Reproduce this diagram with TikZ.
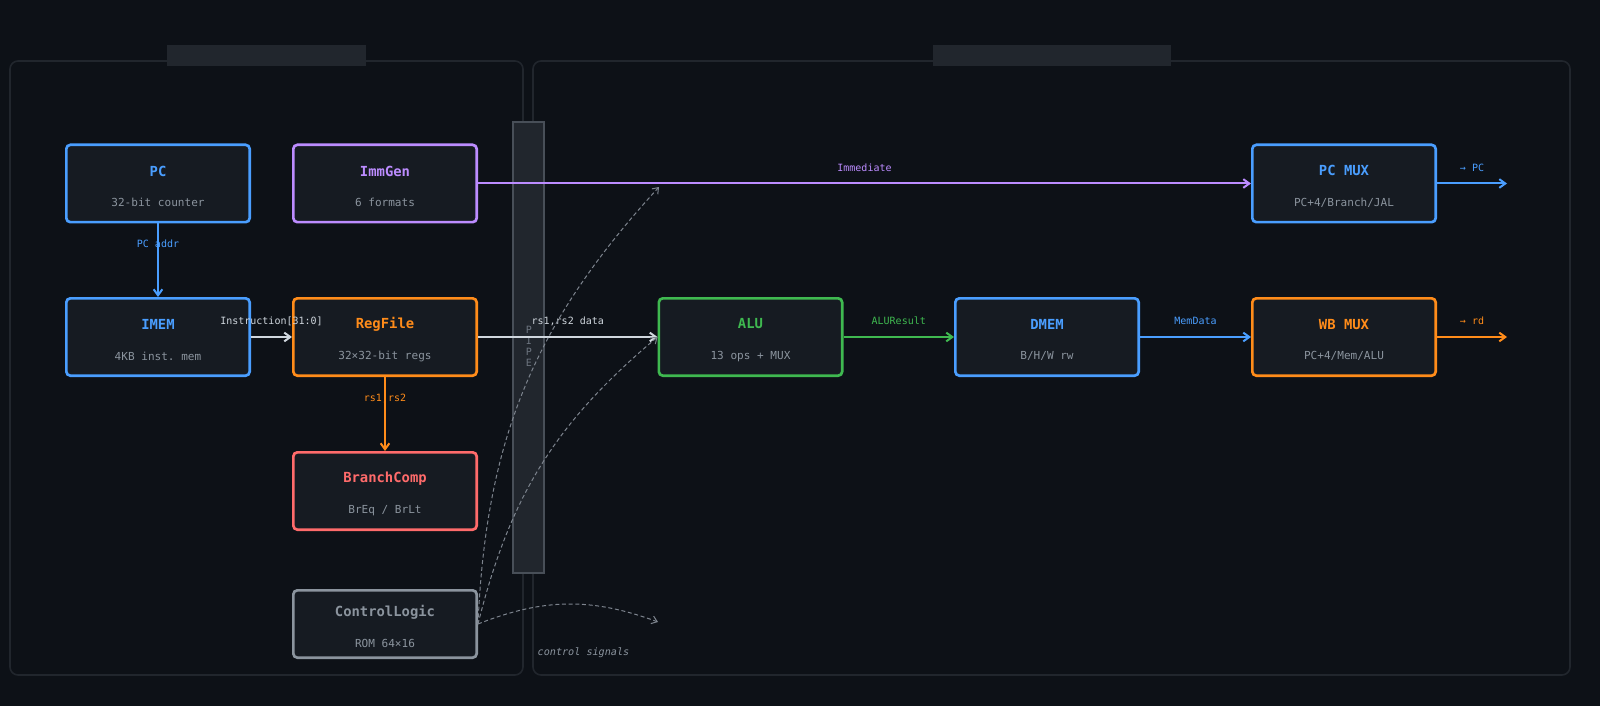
\documentclass[tikz,border=0pt]{standalone}
\usepackage{fontspec}
\setmonofont{DejaVu Sans Mono}
\usepackage{xcolor}
\usetikzlibrary{arrows.meta, calc}

\definecolor{bgdark}{HTML}{0D1117}
\definecolor{panelline}{HTML}{21262D}
\definecolor{boxbg}{HTML}{161B22}
\definecolor{pipefill}{HTML}{21262D}
\definecolor{pipeline}{HTML}{484F58}
\definecolor{cblue}{HTML}{4A9EFF}
\definecolor{cpurple}{HTML}{BC8CFF}
\definecolor{corange}{HTML}{FF8C1A}
\definecolor{cgreen}{HTML}{3FB950}
\definecolor{cred}{HTML}{FF6B6B}
\definecolor{cgray}{HTML}{8B949E}
\definecolor{clight}{HTML}{D0D7DE}
\definecolor{cdim}{HTML}{6E7681}

\newcommand{\unittitle}{\fontsize{10.4pt}{12pt}\selectfont\bfseries\rule{0pt}{12pt}}
\newcommand{\unitsub}{\fontsize{8.3pt}{10pt}\selectfont\color{cgray}}

\begin{document}
\begin{tikzpicture}[
  x=0.75pt, y=-0.75pt,
  unit/.style={draw=#1, text=#1, fill=boxbg, line width=2pt, rounded corners=3pt, minimum width=137.5pt, minimum height=58pt, align=center, font=\ttfamily, inner sep=0pt},
  wire/.style={-{Straight Barb[length=4.5pt, width=6.5pt]}, line width=1.5pt, draw=#1},
  wlbl/.style={font=\ttfamily\fontsize{7.5pt}{9pt}\selectfont, text=#1, midway, yshift=12pt},
  ctl/.style={-{Straight Barb[length=4pt, width=6pt]}, line width=0.75pt, draw=cdim!90!white, dash pattern=on 3pt off 2pt},
  panel/.style={draw=panelline, fill=bgdark, line width=1.2pt, rounded corners=6pt},
]
\fill[bgdark] (0,0) rectangle (1600,706);

% Stage panels
\draw[panel] (10,61) rectangle (523,675);
\draw[panel] (533,61) rectangle (1570,675);
\fill[panelline] (167,45) rectangle (366,66);
\fill[panelline] (933,45) rectangle (1171,66);

% Pipeline register
\draw[fill=pipefill, draw=pipeline, line width=1.2pt] (513,122) rectangle (544,573);
\node[font=\ttfamily\fontsize{7.5pt}{8.25pt}\selectfont, text=cdim, align=center] (pipelbl) at (529,346.5) {P\\I\\P\\E};

% Fetch / decode
\node[unit=cblue] (pc) at (158,183.5) {{\unittitle PC}\\[11pt]{\unitsub 32-bit counter}};
\node[unit=cpurple] (immgen) at (385,183.5) {{\unittitle ImmGen}\\[11pt]{\unitsub 6 formats}};
\node[unit=cblue] (imem) at (158,337) {{\unittitle IMEM}\\[11pt]{\unitsub 4KB inst. mem}};
\node[unit=corange] (regfile) at (385,337) {{\unittitle RegFile}\\[11pt]{\unitsub 32×32-bit regs}};
\node[unit=cred] (branch) at (385,491) {{\unittitle BranchComp}\\[11pt]{\unitsub BrEq / BrLt}};
\node[unit=cgray, minimum height=50.5pt] (ctrl) at (385,624) {{\unittitle ControlLogic}\\[11pt]{\unitsub ROM 64×16}};

% Execute / memory / writeback
\node[unit=cgreen] (alu) at (750.5,337) {{\unittitle ALU}\\[11pt]{\unitsub 13 ops + MUX}};
\node[unit=cblue] (dmem) at (1047,337) {{\unittitle DMEM}\\[11pt]{\unitsub B/H/W rw}};
\node[unit=cblue] (pcmux) at (1344,183.5) {{\unittitle PC MUX}\\[11pt]{\unitsub PC+4/Branch/JAL}};
\node[unit=corange] (wbmux) at (1344,337) {{\unittitle WB MUX}\\[11pt]{\unitsub PC+4/Mem/ALU}};

\coordinate (pcout) at (1507,183.5);
\coordinate (rdout) at (1507,337);
\coordinate (sigtop) at (659,187);
\coordinate (sigout) at (658,622);

% Datapath
\draw[wire=cblue] (pc.south) -- (imem.north) node[wlbl=cblue] {PC addr};
\draw[wire=clight] (imem.east) -- (regfile.west) node[wlbl=clight] {Instruction[31:0]};
\draw[wire=cpurple] (immgen.east) -- (pcmux.west) node[wlbl=cpurple] {Immediate};
\draw[wire=clight] (regfile.east) -- (alu.west) node[wlbl=clight] {rs1,rs2 data};
\draw[wire=corange] (regfile.south) -- (branch.north) node[wlbl=corange] {rs1,rs2};
\draw[wire=cgreen] (alu.east) -- (dmem.west) node[wlbl=cgreen] {ALUResult};
\draw[wire=cblue] (dmem.east) -- (wbmux.west) node[wlbl=cblue] {MemData};
\draw[wire=cblue] (pcmux.east) -- (pcout) node[wlbl=cblue] {→ PC};
\draw[wire=corange] (wbmux.east) -- (rdout) node[wlbl=corange] {→ rd};

% Control signals
\draw[ctl] (ctrl.east) to[bend left=20] (sigtop);
\draw[ctl] (ctrl.east) to[bend left=18] (alu.west);
\draw[ctl] (ctrl.east) to[bend left=21] (sigout);
\node[font=\ttfamily\itshape\fontsize{7.6pt}{9pt}\selectfont, text=cgray, anchor=west] (siglbl) at (533,653) {control signals};
\end{tikzpicture}
\end{document}
